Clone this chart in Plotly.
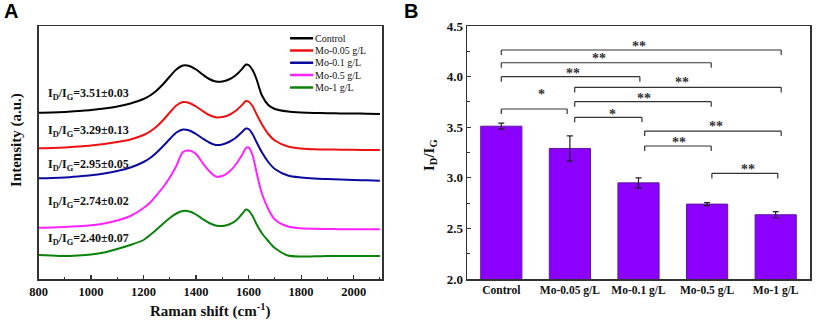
import plotly.graph_objects as go

# ---------------- Panel A data (Raman spectra, offset) ----------------
raman_shift = [800, 850, 900, 950, 1000, 1050, 1100, 1150, 1200, 1225, 1250, 1275, 1300,
               1325, 1350, 1375, 1400, 1425, 1450, 1475, 1500, 1525, 1550, 1575, 1590,
               1600, 1615, 1630, 1650, 1675, 1700, 1750, 1800, 1850, 1900, 1950, 2000,
               2050, 2100]

int_control = [166.3, 166.5, 167, 168, 169, 170.5, 172.5, 175.5, 180, 183.5, 188.5, 195,
               202.5, 209.5, 213.5, 213, 209.5, 204.5, 200, 197.5, 197.5, 199.5, 203.5,
               210, 214.5, 214, 209, 200, 184, 174, 170, 167.5, 166.5, 166, 165.8, 165.5,
               165.5, 165.3, 165]
int_mo005 = [130.7, 131, 131.5, 132.5, 133.5, 135, 137, 139.5, 144, 147.5, 152.5, 159,
             166.5, 173.5, 177, 176, 172.5, 168, 164, 161.7, 162, 164, 168, 174, 178,
             177.5, 173, 165, 155, 145, 138.5, 132.5, 130.5, 129.7, 129.5, 129.3, 129.2,
             129, 129]
int_mo01 = [100.7, 101, 101.5, 102.5, 103.7, 105.5, 108, 111.5, 117, 121, 126.5, 133,
            140, 146.5, 149.5, 148.5, 145, 140.5, 136.5, 134, 134.5, 137, 141, 147, 150.5,
            150, 145, 137, 127, 117, 110, 103.5, 101.5, 100.5, 100, 99.5, 99, 98.7, 98.3]
int_mo05 = [51.3, 51.5, 52, 52.7, 53.7, 55.5, 58.5, 63, 71, 76.5, 84, 92, 101.5, 113,
            127, 128.5, 125, 116, 108, 102.5, 103, 107, 114, 124, 131, 131.5, 124, 107,
            86, 70, 59.5, 52.5, 50.7, 50.2, 50, 49.8, 49.7, 49.7, 49.7]
int_mo1 = [24, 23.5, 23, 23.5, 24.5, 26.5, 30, 34, 39, 44, 49.5, 55.5, 61, 65.5, 68,
           67.5, 64.5, 60, 56, 53.5, 53, 54.5, 58, 65, 69.5, 68.5, 63, 55, 46, 38, 31,
           23.5, 22.5, 22.7, 23, 23, 23, 23, 23]

series_names = ["Control", "Mo-0.05 g/L", "Mo-0.1 g/L", "Mo-0.5 g/L", "Mo-1 g/L"]
series_colors = ["#000000", "#EE1111", "#0A0AA0", "#FF22FF", "#0A820A"]
series_values = [int_control, int_mo005, int_mo01, int_mo05, int_mo1]

ratio_labels = ["3.51±0.03", "3.29±0.13", "2.95±0.05", "2.74±0.02", "2.40±0.07"]
ratio_label_y = [185, 148, 114, 77, 40]

legend_y = [240.7, 228.4, 216.3, 204.0, 191.5]

# ---------------- Panel B data (bar chart) ----------------
categories = ["Control", "Mo-0.05 g/L", "Mo-0.1 g/L", "Mo-0.5 g/L", "Mo-1 g/L"]
idig_mean = [3.51, 3.29, 2.95, 2.74, 2.635]
idig_err = [0.03, 0.125, 0.05, 0.015, 0.03]

bracket_left = [0.0, 0.0, 0.0, 1.07, 0.0, 1.07, 1.07, 2.09, 2.09, 3.07]
bracket_right = [4.08, 3.06, 2.02, 4.08, 0.96, 3.06, 2.05, 4.08, 3.06, 4.03]
bracket_level = [4.263, 4.137, 3.999, 3.894, 3.680, 3.752, 3.598, 3.462, 3.314, 3.044]
star_text = ["**", "**", "**", "**", "*", "**", "*", "**", "**", "**"]
star_x = [2.0, 1.43, 1.05, 2.64, 0.58, 2.08, 1.62, 3.13, 2.59, 3.59]
star_y = [4.332, 4.207, 4.058, 3.976, 3.851, 3.811, 3.660, 3.532, 3.383, 3.110]

SERIF = "Liberation Serif"
W, H = 816, 322

fig = go.Figure()

for name, color, vals in zip(series_names, series_colors, series_values):
    fig.add_trace(go.Scatter(
        x=raman_shift, y=vals, mode="lines", name=name,
        line=dict(color=color, width=2, shape="spline", smoothing=0.8),
        xaxis="x", yaxis="y", showlegend=False, hoverinfo="skip"))

fig.add_trace(go.Bar(
    x=list(range(len(categories))), y=idig_mean, base=0,
    marker=dict(color="#8C00FF", line=dict(color="#5A1A9A", width=1)),
    width=0.6,
    error_y=dict(type="data", array=idig_err, color="#222222", thickness=1.2, width=3),
    xaxis="x2", yaxis="y2", showlegend=False, hoverinfo="skip"))

shapes = []
annotations = []

# manual legend for panel A
for name, color, ly in zip(series_names, series_colors, legend_y):
    shapes.append(dict(type="line", xref="x", yref="y", x0=1758, x1=1846, y0=ly, y1=ly,
                       line=dict(color=color, width=2.5)))
    annotations.append(dict(xref="x", yref="y", x=1846, y=ly, text=name, showarrow=False,
                            xanchor="left", yanchor="middle",
                            font=dict(family=SERIF, size=10, color="#111111")))

# ratio labels in panel A
for lab, ly in zip(ratio_labels, ratio_label_y):
    annotations.append(dict(xref="x", yref="y", x=830, y=ly,
                            text="<b>I<sub>D</sub>/I<sub>G</sub>=" + lab + "</b>",
                            showarrow=False, xanchor="left", yanchor="middle",
                            font=dict(family=SERIF, size=12, color="#111111")))

# significance brackets in panel B
tick_h = 0.05
for xl, xr, lv in zip(bracket_left, bracket_right, bracket_level):
    ln = dict(color="#333333", width=1.2)
    shapes.append(dict(type="line", xref="x2", yref="y2", x0=xl, x1=xr, y0=lv, y1=lv, line=ln))
    shapes.append(dict(type="line", xref="x2", yref="y2", x0=xl, x1=xl, y0=lv, y1=lv - tick_h, line=ln))
    shapes.append(dict(type="line", xref="x2", yref="y2", x0=xr, x1=xr, y0=lv, y1=lv - tick_h, line=ln))
for t, sx, sy in zip(star_text, star_x, star_y):
    annotations.append(dict(xref="x2", yref="y2", x=sx, y=sy, text="<b>" + t + "</b>",
                            showarrow=False, xanchor="center", yanchor="middle", yshift=-3,
                            font=dict(family=SERIF, size=14, color="#333333")))

# titles / panel letters
annotations += [
    dict(xref="paper", yref="paper", x=10.5 / W, y=1 - 11 / H, text="<b>A</b>", showarrow=False,
         xanchor="center", yanchor="middle",
         font=dict(family="Liberation Sans", size=20, color="#000")),
    dict(xref="paper", yref="paper", x=411 / W, y=1 - 11 / H, text="<b>B</b>", showarrow=False,
         xanchor="center", yanchor="middle",
         font=dict(family="Liberation Sans", size=20, color="#000")),
    dict(xref="paper", yref="paper", x=210 / W, y=1 - 310 / H,
         text="<b>Raman shift (cm<sup>-1</sup>)</b>", showarrow=False,
         xanchor="center", yanchor="middle", font=dict(family=SERIF, size=15, color="#111")),
    dict(xref="paper", yref="paper", x=17 / W, y=1 - 140 / H,
         text="<b>Intensity (a.u.)</b>", showarrow=False, textangle=-90,
         xanchor="center", yanchor="middle", font=dict(family=SERIF, size=15, color="#111")),
    dict(xref="paper", yref="paper", x=430 / W, y=1 - 155 / H,
         text="<b>I<sub>D</sub>/I<sub>G</sub></b>", showarrow=False, textangle=-90,
         xanchor="center", yanchor="middle", font=dict(family=SERIF, size=15, color="#111")),
]

ydom = [1 - 279 / H, 1 - 26 / H]
axis_common = dict(showline=True, linecolor="#333333", linewidth=1.5, mirror=True,
                   showgrid=False, zeroline=False, automargin=False)

fig.update_layout(
    template="none",
    width=W, height=H, margin=dict(l=0, r=0, t=0, b=0, pad=0, autoexpand=False),
    paper_bgcolor="white", plot_bgcolor="white", showlegend=False,
    xaxis=dict(domain=[38.5 / W, 382 / W], range=[800, 2108], anchor="y",
               tickmode="array", tickvals=[800, 1000, 1200, 1400, 1600, 1800, 2000],
               ticks="inside", ticklen=4, tickwidth=1.2, tickcolor="#333",
               minor=dict(ticks="inside", ticklen=2.5, tickwidth=1, tickcolor="#333", dtick=100, tick0=800),
               tickfont=dict(family=SERIF, size=12.5, color="#111", weight="bold"),
               **axis_common),
    yaxis=dict(domain=ydom, range=[0, 253], anchor="x", showticklabels=False, ticks="",
               **axis_common),
    xaxis2=dict(domain=[467 / W, 810 / W], range=[-0.5, 4.5], anchor="y2",
                tickmode="array", tickvals=list(range(len(categories))), ticktext=categories,
                ticks="", tickfont=dict(family=SERIF, size=11.5, color="#111", weight="bold"),
                **axis_common),
    yaxis2=dict(domain=ydom, range=[2.0, 4.5], anchor="x2",
                tickmode="array", tickvals=[2.0, 2.5, 3.0, 3.5, 4.0, 4.5], tickformat=".1f",
                ticks="inside", ticklen=4, tickwidth=1.2, tickcolor="#333",
                minor=dict(ticks="inside", ticklen=2.5, tickwidth=1, tickcolor="#333", dtick=0.25, tick0=2.0),
                tickfont=dict(family=SERIF, size=13, color="#111", weight="bold"),
                **axis_common),
    shapes=shapes, annotations=annotations,
)

fig.write_html("out.html", config={"displayModeBar": False, "staticPlot": True},
               post_script="document.body.style.margin='0';document.body.style.overflow='hidden';")
